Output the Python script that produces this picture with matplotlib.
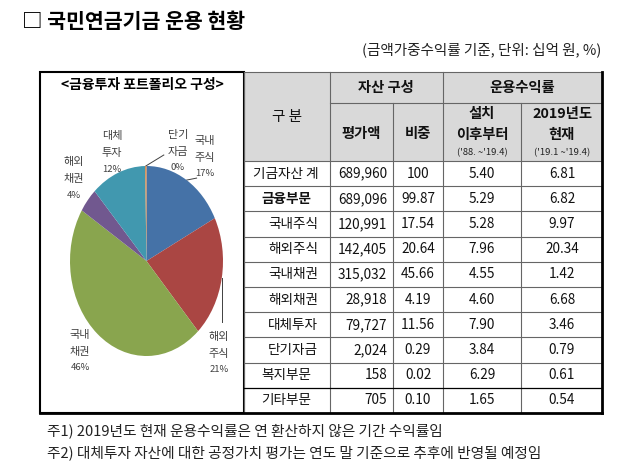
import numpy as np
import matplotlib.pyplot as plt
from matplotlib.patches import Rectangle

plt.rcParams['font.family'] = ['Noto Sans CJK KR', 'DejaVu Sans']

# table data (십억 원, %)
row_names = ['기금자산 계', '금융부문', '국내주식', '해외주식', '국내채권',
             '해외채권', '대체투자', '단기자금', '복지부문', '기타부문']
amount = [689960, 689096, 120991, 142405, 315032, 28918, 79727, 2024, 158, 705]
weight = [100, 99.87, 17.54, 20.64, 45.66, 4.19, 11.56, 0.29, 0.02, 0.10]
ret_since = [5.40, 5.29, 5.28, 7.96, 4.55, 4.60, 7.90, 3.84, 6.29, 1.65]
ret_2019 = [6.81, 6.82, 9.97, 20.34, 1.42, 6.68, 3.46, 0.79, 0.61, 0.54]

# pie = 금융부문 구성
pie_names = ['국내\n주식', '해외\n주식', '국내\n채권', '해외\n채권', '대체\n투자', '단기\n자금']
pie_vals = weight[2:8]
pie_pct = ['17%', '21%', '46%', '4%', '12%', '0%']
pie_colors = ['#4572a7', '#aa4643', '#89a54e', '#71588f', '#4198af', '#db843d']

W, H = 640, 469
fig = plt.figure(figsize=(6.4, 4.69), dpi=100)
ax = fig.add_axes([0, 0, 1, 1])
ax.set_xlim(0, W)
ax.set_ylim(H, 0)
ax.axis('off')

# title / unit
ax.text(22, 21, '□ 국민연금기금 운용 현황', fontsize=14.8, fontweight='bold', va='center')
ax.text(601, 50, '(금액가중수익률 기준, 단위: 십억 원, %)', fontsize=10.5, ha='right',
        va='center', color='#222222')

# ---- table ----
xs = [244, 330, 393, 443, 521, 602]
top, mid, hbot, bot = 72, 103, 161, 413
rh = (bot - hbot) / len(row_names)

ax.add_patch(Rectangle((xs[0], top), xs[-1] - xs[0], hbot - top, fc='#d9d9d9', ec='none'))
ln = dict(color='#666666', lw=0.8)
ax.plot([xs[0], xs[-1]], [top, top], **ln)
ax.plot([xs[1], xs[-1]], [mid, mid], **ln)
ax.plot([xs[0], xs[-1]], [hbot, hbot], **ln)
for x in [xs[0], xs[1], xs[3]]:
    ax.plot([x, x], [top, bot], **ln)
for x in [xs[2], xs[4]]:
    ax.plot([x, x], [mid, bot], **ln)
for i in range(1, len(row_names)):
    y = hbot + rh * i
    if i == 9:
        ax.plot([xs[0], xs[-1]], [y, y], color='black', lw=0.9)
    else:
        ax.plot([xs[0], xs[-1]], [y, y], **ln)
ax.plot([xs[-1], xs[-1]], [top, bot], color='black', lw=2)
ax.plot([40, xs[-1]], [bot, bot], color='black', lw=2)

# header
hd = dict(fontsize=10.3, fontweight='bold', ha='center', va='center', color='#111111')
ax.text(287, 117, '구 분', fontsize=10.5, ha='center', va='center', color='#111111')
ax.text(386, 88, '자산 구성', **hd)
ax.text(522, 88, '운용수익률', **hd)
ax.text(361, 134, '평가액', **hd)
ax.text(418, 134, '비중', **hd)
ax.text(482, 114, '설치', **hd)
ax.text(482, 135, '이후부터', **hd)
ax.text(562, 114, '2019년도', **hd)
ax.text(562, 135, '현재', **hd)
ax.text(482, 153, "('88. ~'19.4)", fontsize=6.8, ha='center', va='center', color='#222222')
ax.text(562, 153, "('19.1 ~'19.4)", fontsize=6.8, ha='center', va='center', color='#222222')

# body
cell = dict(fontsize=9.8, va='center', color='#111111')
for i, name in enumerate(row_names):
    y = hbot + rh * (i + 0.5)
    if 2 <= i <= 7:
        ax.text(318, y, name, ha='right', **cell)
    elif i == 1:
        ax.text(286, y, name, ha='center', fontweight='bold', **cell)
    else:
        ax.text(286, y, name, ha='center', **cell)
    ax.text(387, y, f'{amount[i]:,}', ha='right', **cell)
    w = '100' if weight[i] == 100 else f'{weight[i]:.2f}'
    ax.text(418, y, w, ha='center', **cell)
    ax.text(482, y, f'{ret_since[i]:.2f}', ha='center', **cell)
    ax.text(562, y, f'{ret_2019[i]:.2f}', ha='center', **cell)

# ---- pie box ----
ax.add_patch(Rectangle((40, top), xs[0] - 40, bot - top, fill=False, ec='black', lw=1.5))
ax.text(142, 85, '<금융투자 포트폴리오 구성>', fontsize=10, fontweight='bold',
        ha='center', va='center')

cx, cy, rx, ry = 146.5, 261, 76.5, 95
pax = fig.add_axes([(cx - rx) / W, 1 - (cy + ry) / H, 2 * rx / W, 2 * ry / H])
pax.pie(pie_vals, colors=pie_colors, startangle=90, counterclock=False,
        wedgeprops=dict(linewidth=0))
pax.set_aspect('auto')
pax.set_xlim(-1, 1)
pax.set_ylim(-1, 1)
pax.axis('off')

# label positions (x center, first line y)
lab_pos = [(205, 141), (219, 337), (80, 335), (74, 162), (112, 136), (178, 135)]
ang = 90 - 360 * (np.cumsum(pie_vals) - np.array(pie_vals) / 2) / sum(pie_vals)
for k, name in enumerate(pie_names):
    lx, ly = lab_pos[k]
    parts = name.split('\n')
    ax.text(lx, ly, parts[0], fontsize=8, ha='center', va='center', color='#404040')
    ax.text(lx, ly + 17, parts[1], fontsize=8, ha='center', va='center', color='#404040')
    ax.text(lx, ly + 33, pie_pct[k], fontsize=6.8, ha='center', va='center', color='#404040')

# leader lines
def edge(a):
    t = np.deg2rad(a)
    return cx + rx * np.cos(t), cy - ry * np.sin(t)

ex, ey = edge(ang[0])
ax.plot([ex, ex + 10], [ey, ey - 2], color='#404040', lw=0.7)
ex, ey = edge(ang[1])
ax.plot([ex, ex], [ey, ey + 44], color='#404040', lw=0.7)
ex, ey = edge(ang[5])
ax.plot([ex, ex + 18], [ey, ey - 11], color='#404040', lw=0.7)

# notes
ax.text(47, 431, '주1) 2019년도 현재 운용수익률은 연 환산하지 않은 기간 수익률임',
        fontsize=10.6, va='center', color='#222222')
ax.text(47, 453, '주2) 대체투자 자산에 대한 공정가치 평가는 연도 말 기준으로 추후에 반영될 예정임',
        fontsize=10.6, va='center', color='#222222')

fig.savefig('out.png', dpi=100)
